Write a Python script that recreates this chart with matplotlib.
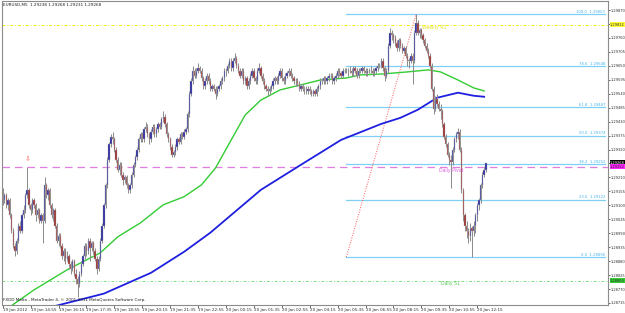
import matplotlib
matplotlib.use("Agg")
import matplotlib.pyplot as plt
import matplotlib.transforms as mtransforms

# ---------------- data ----------------
symbol_title = "EURUSD,M5  1.29238 1.29268 1.29231 1.29268"
footer = "FXDD Malta - MetaTrader 4, \u00a9 2001-2011 MetaQuotes Software Corp."

closes = [
 1.2912,1.2914,1.2910,1.2912,1.2906,1.2900,1.2894,1.2892,1.2896,1.2902,
 1.2900,1.2906,1.2908,1.2914,1.2916,1.2910,1.2908,1.2912,1.2910,1.2906,
 1.2908,1.2904,1.2906,1.2904,1.2918,1.2914,1.2916,1.2910,1.2906,1.2908,
 1.2902,1.2896,1.2898,1.2894,1.2890,1.2892,1.2889,1.2890,1.2887,1.2885,
 1.2888,1.2883,1.2881,1.2879,1.2883,1.2887,1.2890,1.2894,1.2892,1.2896,
 1.2893,1.2895,1.2892,1.2889,1.2885,1.2889,1.2896,1.2902,1.2910,1.2918,
 1.2928,1.2934,1.2937,1.2936,1.2932,1.2928,1.2924,1.2926,1.2922,1.2920,
 1.2921,1.2918,1.2916,1.2918,1.2922,1.2926,1.2929,1.2932,1.2936,1.2938,
 1.2936,1.2940,1.2941,1.2938,1.2936,1.2939,1.2941,1.2938,1.2940,1.2942,
 1.2941,1.2944,1.2945,1.2942,1.2938,1.2936,1.2933,1.2930,1.2931,1.2933,
 1.2936,1.2935,1.2938,1.2937,1.2939,1.2940,1.2946,1.2954,1.2959,1.2963,
 1.2961,1.2963,1.2964,1.2963,1.2960,1.2957,1.2959,1.2961,1.2959,1.2956,
 1.2957,1.2956,1.2954,1.2956,1.2957,1.2959,1.2960,1.2963,1.2963,1.2965,
 1.2967,1.2964,1.2967,1.2968,1.2965,1.2963,1.2961,1.2963,1.2959,1.2960,
 1.2957,1.2959,1.2961,1.2963,1.2960,1.2959,1.2963,1.2964,1.2961,1.2959,
 1.2957,1.2956,1.2955,1.2956,1.2957,1.2959,1.2960,1.2959,1.2961,1.2963,
 1.2960,1.2959,1.2961,1.2962,1.2963,1.2961,1.2960,1.2959,1.2959,1.2958,
 1.2956,1.2957,1.2956,1.2956,1.2955,1.2956,1.2955,1.2954,1.2955,1.2954,
 1.2956,1.2957,1.2959,1.2959,1.2960,1.2959,1.2960,1.2961,1.2961,1.2959,
 1.2960,1.2961,1.2963,1.2962,1.2961,1.2963,1.2963,1.2963,1.2963,1.2963,
 1.2962,1.2964,1.2963,1.2961,1.2963,1.2963,1.2964,1.2963,1.2962,1.2963,
 1.2963,1.2963,1.2962,1.2963,1.2964,1.2965,1.2965,1.2967,1.2964,1.2961,
 1.2963,1.2973,1.2978,1.2977,1.2976,1.2974,1.2972,1.2975,1.2973,1.2971,
 1.2972,1.2969,1.2967,1.2967,1.2969,1.2967,1.2978,1.2982,1.2978,1.2979,
 1.2977,1.2975,1.2973,1.2971,1.2969,1.2965,1.2956,1.2948,1.2952,1.2950,
 1.2948,1.2947,1.2942,1.2937,1.2934,1.2930,1.2928,1.2927,1.2932,1.2936,
 1.2938,1.2939,1.2932,1.2916,1.2906,1.2902,1.2900,1.2898,1.2901,1.2900,
 1.2902,1.2906,1.2910,1.2912,1.2918,1.2922,1.2924,1.29268]

opens = [
 1.2913,1.2912,1.2914,1.2910,1.2912,1.2906,1.2900,1.2894,1.2892,1.2896,
 1.2902,1.2900,1.2906,1.2908,1.2914,1.2916,1.2910,1.2908,1.2912,1.2910,
 1.2906,1.2908,1.2904,1.2906,1.2904,1.2918,1.2914,1.2916,1.2910,1.2906,
 1.2908,1.2902,1.2896,1.2898,1.2894,1.2890,1.2892,1.2889,1.2890,1.2887,
 1.2885,1.2888,1.2883,1.2881,1.2879,1.2883,1.2887,1.2890,1.2894,1.2892,
 1.2896,1.2893,1.2895,1.2892,1.2889,1.2885,1.2889,1.2896,1.2902,1.2910,
 1.2918,1.2928,1.2934,1.2937,1.2936,1.2932,1.2928,1.2924,1.2926,1.2922,
 1.2920,1.2921,1.2918,1.2916,1.2918,1.2922,1.2926,1.2929,1.2932,1.2936,
 1.2938,1.2936,1.2940,1.2941,1.2938,1.2936,1.2939,1.2941,1.2938,1.2940,
 1.2942,1.2941,1.2944,1.2945,1.2942,1.2938,1.2936,1.2933,1.2930,1.2931,
 1.2933,1.2936,1.2935,1.2938,1.2937,1.2939,1.2940,1.2946,1.2954,1.2959,
 1.2963,1.2961,1.2963,1.2964,1.2963,1.2960,1.2957,1.2959,1.2961,1.2959,
 1.2956,1.2957,1.2956,1.2954,1.2956,1.2957,1.2959,1.2960,1.2963,1.2963,
 1.2965,1.2967,1.2964,1.2967,1.2968,1.2965,1.2963,1.2961,1.2963,1.2959,
 1.2960,1.2957,1.2959,1.2961,1.2963,1.2960,1.2959,1.2963,1.2964,1.2961,
 1.2959,1.2957,1.2956,1.2955,1.2956,1.2957,1.2959,1.2960,1.2959,1.2961,
 1.2963,1.2960,1.2959,1.2961,1.2962,1.2963,1.2961,1.2960,1.2959,1.2959,
 1.2958,1.2956,1.2957,1.2956,1.2956,1.2955,1.2956,1.2955,1.2954,1.2955,
 1.2954,1.2956,1.2957,1.2959,1.2959,1.2960,1.2959,1.2960,1.2961,1.2961,
 1.2959,1.2960,1.2961,1.2963,1.2962,1.2961,1.2963,1.2963,1.2963,1.2963,
 1.2963,1.2962,1.2964,1.2963,1.2961,1.2963,1.2963,1.2964,1.2963,1.2962,
 1.2963,1.2963,1.2963,1.2962,1.2963,1.2964,1.2965,1.2965,1.2967,1.2964,
 1.2961,1.2963,1.2973,1.2978,1.2977,1.2976,1.2974,1.2972,1.2975,1.2973,
 1.2971,1.2972,1.2969,1.2967,1.2967,1.2969,1.2967,1.2978,1.2982,1.2978,
 1.2979,1.2977,1.2975,1.2973,1.2971,1.2969,1.2965,1.2956,1.2948,1.2952,
 1.2950,1.2948,1.2947,1.2942,1.2937,1.2934,1.2930,1.2928,1.2927,1.2932,
 1.2936,1.2938,1.2939,1.2932,1.2916,1.2906,1.2902,1.2900,1.2898,1.2901,
 1.2900,1.2902,1.2906,1.2910,1.2912,1.2918,1.2922,1.2924]

highs = [
 1.2917,1.2915,1.2915,1.2913,1.2913,1.2907,1.2901,1.2895,1.2897,1.2903,
 1.2904,1.2907,1.2910,1.2915,1.2925,1.2917,1.2911,1.2913,1.2913,1.2911,
 1.2909,1.2909,1.2907,1.2907,1.2921,1.2919,1.2917,1.2917,1.2911,1.2909,
 1.2909,1.2903,1.2899,1.2899,1.2895,1.2893,1.2893,1.2892,1.2891,1.2888,
 1.2889,1.2889,1.2885,1.2882,1.2884,1.2888,1.2891,1.2895,1.2895,1.2897,
 1.2897,1.2896,1.2896,1.2893,1.2890,1.2890,1.2897,1.2903,1.2911,1.2919,
 1.2929,1.2935,1.2938,1.2939,1.2937,1.2933,1.2929,1.2927,1.2927,1.2923,
 1.2922,1.2922,1.2919,1.2919,1.2923,1.2927,1.2930,1.2933,1.2937,1.2939,
 1.2939,1.2941,1.2943,1.2942,1.2939,1.2940,1.2942,1.2942,1.2941,1.2943,
 1.2943,1.2945,1.2947,1.2946,1.2943,1.2939,1.2937,1.2934,1.2932,1.2934,
 1.2937,1.2937,1.2939,1.2939,1.2940,1.2941,1.2947,1.2955,1.2960,1.2965,
 1.2964,1.2964,1.2966,1.2965,1.2964,1.2961,1.2960,1.2962,1.2962,1.2960,
 1.2958,1.2958,1.2957,1.2957,1.2958,1.2960,1.2961,1.2964,1.2964,1.2966,
 1.2968,1.2968,1.2968,1.2970,1.2969,1.2966,1.2964,1.2964,1.2964,1.2961,
 1.2961,1.2960,1.2962,1.2964,1.2964,1.2961,1.2964,1.2966,1.2965,1.2962,
 1.2960,1.2958,1.2957,1.2957,1.2958,1.2960,1.2961,1.2961,1.2962,1.2964,
 1.2964,1.2961,1.2962,1.2963,1.2964,1.2964,1.2962,1.2961,1.2960,1.2960,
 1.2959,1.2958,1.2958,1.2957,1.2957,1.2957,1.2957,1.2956,1.2956,1.2956,
 1.2957,1.2958,1.2960,1.2960,1.2961,1.2961,1.2961,1.2962,1.2962,1.2962,
 1.2961,1.2962,1.2964,1.2964,1.2963,1.2964,1.2964,1.2964,1.2964,1.2965,
 1.2964,1.2965,1.2965,1.2964,1.2964,1.2964,1.2965,1.2965,1.2964,1.2964,
 1.2964,1.2965,1.2964,1.2964,1.2965,1.2966,1.2966,1.2968,1.2968,1.2965,
 1.2964,1.2974,1.2980,1.2979,1.2978,1.2977,1.2975,1.2976,1.2976,1.2974,
 1.2973,1.2973,1.2970,1.2968,1.2970,1.2970,1.2979,1.29853,1.2983,1.2980,
 1.2980,1.2978,1.2976,1.2974,1.2972,1.2970,1.2966,1.2957,1.2953,1.2954,
 1.2951,1.2950,1.2948,1.2943,1.2938,1.2935,1.2931,1.2930,1.2933,1.2937,
 1.2939,1.29405,1.2940,1.2933,1.2917,1.2907,1.2904,1.2901,1.2903,1.2902,
 1.2904,1.2907,1.2911,1.2913,1.2919,1.2923,1.2925,1.29268]

lows = [
 1.2910,1.2911,1.2909,1.2908,1.2905,1.2899,1.2893,1.2890,1.2891,1.2895,
 1.2899,1.2899,1.2905,1.2907,1.2913,1.2909,1.2906,1.2907,1.2909,1.2904,
 1.2905,1.2903,1.2903,1.2895,1.2903,1.2913,1.2912,1.2909,1.2905,1.2904,
 1.2901,1.2895,1.2894,1.2893,1.2889,1.2888,1.2887,1.2888,1.2885,1.2883,
 1.2884,1.2882,1.2879,1.2874,1.2878,1.2882,1.2886,1.2889,1.2890,1.2891,
 1.2888,1.2892,1.2891,1.2888,1.2883,1.2884,1.2888,1.2895,1.2901,1.2909,
 1.2917,1.2927,1.2933,1.2934,1.2931,1.2927,1.2923,1.2922,1.2921,1.2918,
 1.2919,1.2917,1.2915,1.2915,1.2917,1.2921,1.2925,1.2928,1.2931,1.2935,
 1.2935,1.2935,1.2939,1.2937,1.2934,1.2935,1.2938,1.2937,1.2937,1.2939,
 1.2940,1.2940,1.2943,1.2941,1.2937,1.2935,1.2932,1.2929,1.2929,1.2930,
 1.2932,1.2934,1.2934,1.2936,1.2936,1.2938,1.2939,1.2945,1.2953,1.2958,
 1.2960,1.2960,1.2962,1.2962,1.2959,1.2956,1.2956,1.2958,1.2958,1.2955,
 1.2955,1.2955,1.2952,1.2953,1.2955,1.2956,1.2958,1.2959,1.2961,1.2962,
 1.2964,1.2963,1.2963,1.2966,1.2964,1.2962,1.2960,1.2960,1.2958,1.2958,
 1.2956,1.2956,1.2958,1.2960,1.2959,1.2958,1.2958,1.2962,1.2960,1.2958,
 1.2956,1.2955,1.2953,1.2954,1.2955,1.2956,1.2958,1.2958,1.2958,1.2960,
 1.2959,1.2958,1.2958,1.2960,1.2961,1.2960,1.2959,1.2958,1.2957,1.2957,
 1.2955,1.2955,1.2955,1.2954,1.2954,1.2954,1.2954,1.2953,1.2953,1.2953,
 1.2953,1.2955,1.2956,1.2958,1.2958,1.2958,1.2958,1.2959,1.2960,1.2958,
 1.2958,1.2959,1.2960,1.2961,1.2960,1.2960,1.2962,1.2962,1.2961,1.2962,
 1.2961,1.2961,1.2962,1.2960,1.2960,1.2962,1.2962,1.2962,1.2961,1.2961,
 1.2962,1.2962,1.2961,1.2961,1.2962,1.2963,1.2964,1.2964,1.2963,1.2959,
 1.2960,1.2962,1.2972,1.2975,1.2974,1.2973,1.2971,1.2971,1.2972,1.2970,
 1.2970,1.2968,1.2965,1.2964,1.2966,1.2958,1.2966,1.2977,1.2977,1.2976,
 1.2976,1.2974,1.2972,1.2970,1.2968,1.2964,1.2955,1.2946,1.2947,1.2949,
 1.2947,1.2944,1.2941,1.2936,1.2933,1.2929,1.2926,1.2917,1.2926,1.2931,
 1.2935,1.2936,1.2931,1.2915,1.2904,1.2900,1.2897,1.2895,1.2896,1.28896,
 1.2898,1.2899,1.2904,1.2908,1.2911,1.2917,1.2921,1.29231]

# moving averages (bar index, price)
ma_green_idx = [0, 18, 37, 56, 66, 79, 92, 104, 114, 122, 131, 139, 148, 159, 171, 182, 197,
                205, 218, 232, 244, 251, 261, 270, 276]
ma_green_val = [1.28680, 1.28767, 1.28846, 1.28913, 1.28976, 1.29031, 1.29102, 1.29134, 1.29181,
                1.29247, 1.29358, 1.29456, 1.29515, 1.29555, 1.29575, 1.29594, 1.29602,
                1.29614, 1.29618, 1.29626, 1.29634, 1.29626, 1.29594, 1.29563, 1.29551]
ma_blue_idx = [22, 58, 85, 104, 119, 148, 171, 194, 217, 228, 238, 249, 261, 270, 276]
ma_blue_val = [1.28689, 1.28752, 1.28834, 1.28917, 1.28992, 1.29161, 1.29260, 1.29358, 1.29421, 1.29445,
               1.29477, 1.29524, 1.29544, 1.29532, 1.29528]

# time labels (every 16 bars of M5)
time_label_idx = [0, 16, 32, 48, 64, 80, 96, 112, 128, 144, 160, 176, 192, 208, 224, 240, 256, 272]
time_labels = ["19 Jan 2012", "19 Jan 14:55", "19 Jan 16:15", "19 Jan 17:35", "19 Jan 18:55",
               "19 Jan 20:15", "19 Jan 21:35", "19 Jan 22:55", "20 Jan 00:15", "20 Jan 01:35",
               "20 Jan 02:55", "20 Jan 04:15", "20 Jan 05:35", "20 Jan 06:55", "20 Jan 08:15",
               "20 Jan 09:35", "20 Jan 10:55", "20 Jan 12:15"]

price_ticks = [1.29870, 1.29815, 1.29760, 1.29705, 1.29650, 1.29595, 1.29540, 1.29485, 1.29430,
               1.29375, 1.29320, 1.29265, 1.29210, 1.29155, 1.29100, 1.29045, 1.28990, 1.28935,
               1.28880, 1.28825, 1.28770, 1.28715]

# pivots
weekly_r1 = 1.29812
daily_pivot = 1.29252
daily_s1 = 1.28803
bid = 1.29268

# fibonacci
fib_low_idx, fib_low = 197, 1.28896
fib_high_idx, fib_high = 237, 1.29853
fib_ratios = [0.0, 23.6, 38.2, 50.0, 61.8, 78.6, 100.0]

# ---------------- drawing ----------------
W, H = 625, 313
fig = plt.figure(figsize=(W / 100, H / 100), dpi=100)
fig.patch.set_facecolor("white")
ax = fig.add_axes([2 / W, 8 / H, 606 / W, 304 / H])
ax.set_facecolor("white")
ax.set_xlim(-0.4, 347.0)
ax.set_ylim(1.287071, 1.299055)

FS = 3.0
YFS = 2.6
n = len(closes)
xs = list(range(n))

# pivot lines
ax.axhline(weekly_r1, color="#f2f000", lw=0.7, ls=(0, (3, 2, 1, 2)), zorder=1)
ax.axhline(daily_pivot, color="#e07ee0", lw=0.9, ls=(0, (6, 4)), zorder=1)
ax.axhline(daily_s1, color="#80e080", lw=0.7, ls=(0, (3, 2, 1, 2)), zorder=1)

# fibonacci levels
fib_color = "#7fd0f4"
fib_range = fib_high - fib_low
for r in fib_ratios:
    lvl = fib_low + fib_range * r / 100.0
    ax.plot([fib_low_idx, 345.5], [lvl, lvl], color=fib_color, lw=0.9, zorder=1)
    ax.text(345.3, lvl + 0.00002, f"{r:.1f}  {lvl:.5f}", color="#45b4ea", fontsize=FS - 0.3,
            ha="right", va="bottom", zorder=3)
ax.plot([fib_low_idx, fib_high_idx], [fib_low, fib_high], color="#ff5a5a", lw=0.7,
        ls=(0, (1, 1.5)), zorder=1)

# moving averages
ax.plot(ma_green_idx, ma_green_val, color="#33cc33", lw=1.0, zorder=2)
ax.plot(ma_blue_idx, ma_blue_val, color="#1f1fe0", lw=1.3, zorder=2)

# candles
bull, bear, doji = "#22229e", "#9a2a2a", "#555555"
cols = []
bottoms = []
heights = []
for o, c in zip(opens, closes):
    if c > o:
        cols.append(bull)
    elif c < o:
        cols.append(bear)
    else:
        cols.append(doji)
    bottoms.append(min(o, c))
    heights.append(max(abs(c - o), 0.000012))
ax.vlines(xs, lows, highs, color="#8a8a8a", lw=0.7, zorder=3)
ax.bar(xs, heights, bottom=bottoms, width=0.75, color=cols, edgecolor="#b0b0b0",
       linewidth=0.3, zorder=4)

# texts on chart
ax.text(240.5, weekly_r1 - 0.00003, "Weekly R1", color="#e0e020", fontsize=FS + 0.3, ha="left", va="top", zorder=5)
ax.text(250.0, daily_pivot - 0.00003, "Daily Pivot", color="#e060e0", fontsize=FS + 0.3, ha="left", va="top", zorder=5)
ax.text(251.5, daily_s1 - 0.00003, "Daily S1", color="#55cc55", fontsize=FS + 0.3, ha="left", va="top", zorder=5)
ax.text(14.6, 1.29284, "\u21e9", color="#ff6060", fontsize=5, ha="center", va="center", zorder=5)

fig.text(3 / W, 1 - 5 / H, symbol_title, fontsize=FS, color="#202020", ha="left", va="center")
fig.text(3 / W, 1 - 300 / H, footer, fontsize=FS, color="#202020", ha="left", va="center")

# axes style
for s in ax.spines.values():
    s.set_color("#8c8c8c")
    s.set_linewidth(0.8)
ax.yaxis.tick_right()
ax.set_yticks(price_ticks)
ax.set_yticklabels([f"{p:.5f}" for p in price_ticks])
ax.set_xticks(time_label_idx)
ax.set_xticklabels(time_labels)
for lab in ax.get_xticklabels():
    lab.set_ha("left")
ax.tick_params(axis="x", labelsize=FS, colors="#303030", length=2, width=0.5, pad=0.5)
ax.tick_params(axis="y", labelsize=YFS, colors="#303030", length=1.5, width=0.5, pad=0.6)

# price boxes on the axis
trans = mtransforms.blended_transform_factory(ax.transAxes, ax.transData)
for price, fc, tc in [(weekly_r1, "#ffff33", "#303030"), (daily_s1, "#33cc33", "#303030"),
                      (bid, "#000000", "#ffffff"), (daily_pivot, "#ff22ff", "#303030")]:
    ax.text(1.0035, price, f"{price:.5f}", transform=trans, fontsize=YFS, color=tc,
            ha="left", va="center", zorder=10, clip_on=False,
            bbox=dict(boxstyle="square,pad=0.12", fc=fc, ec="none"))

fig.savefig("out.png", dpi=100, facecolor="white")
